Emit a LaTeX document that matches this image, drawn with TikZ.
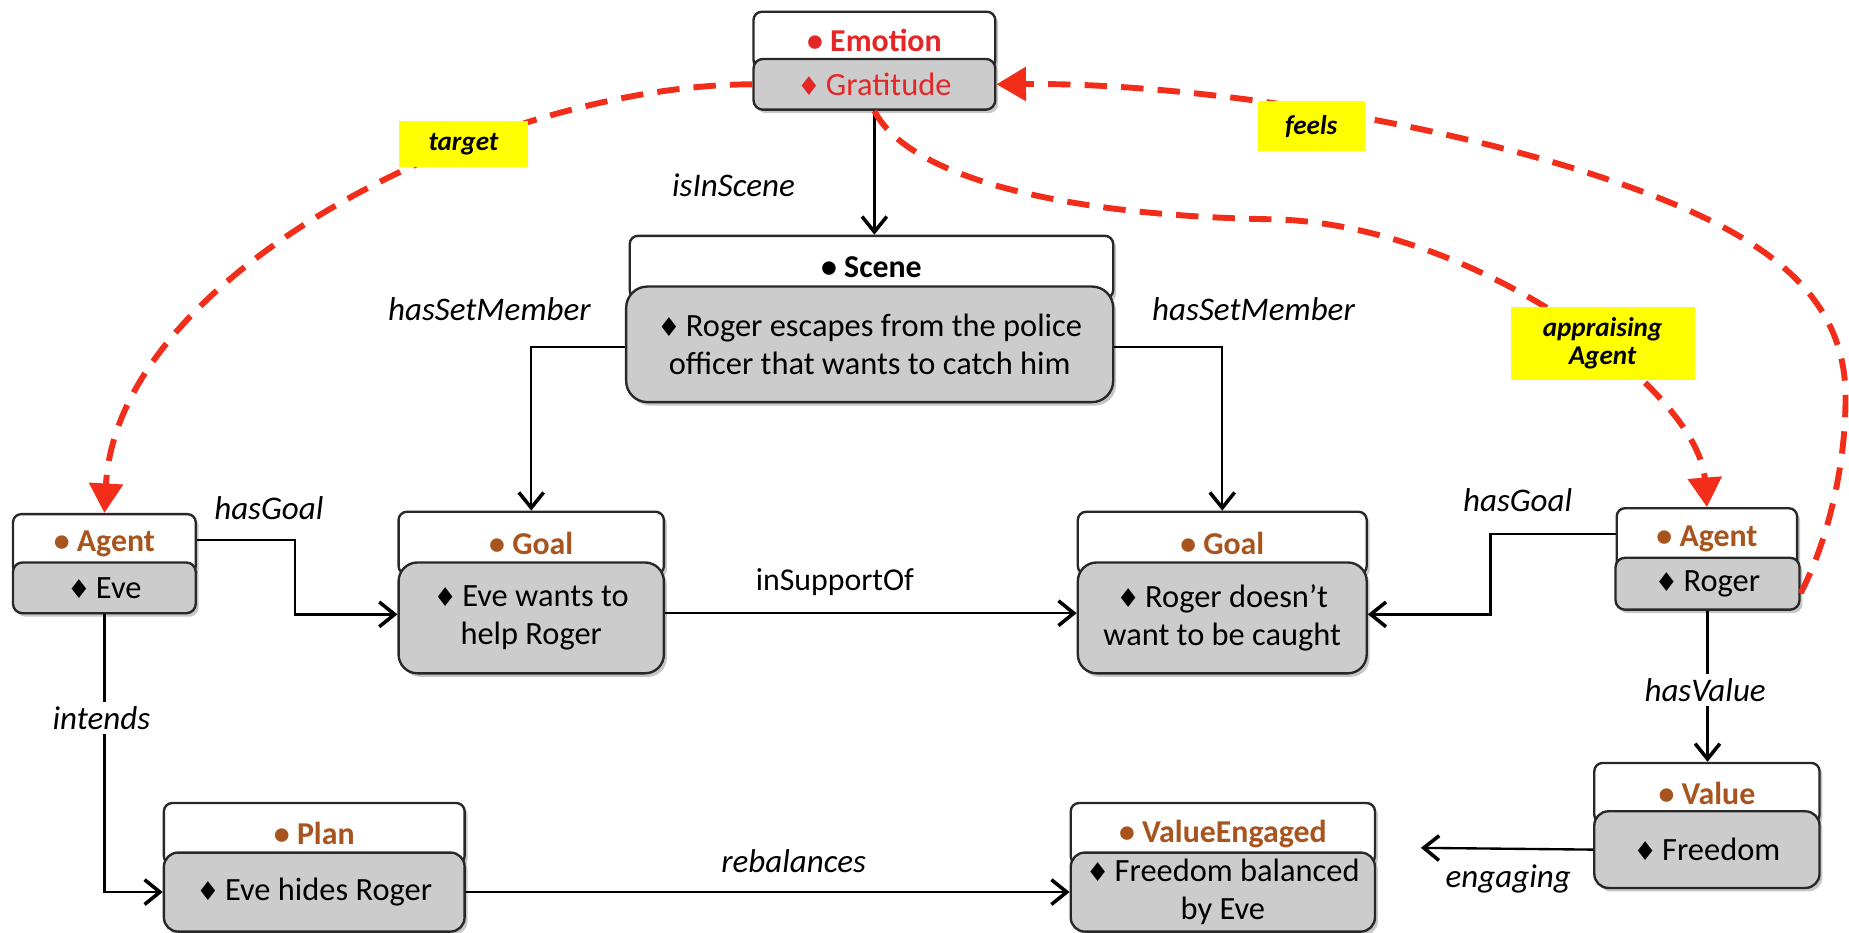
\documentclass[tikz,border=0pt]{standalone}
\usepackage{fontspec}
\setmainfont{Carlito}
\newfontfamily\symf{DejaVu Sans}
\usetikzlibrary{arrows.meta,shadows,calc}
\definecolor{hdrbrown}{RGB}{168,84,30}
\definecolor{emored}{RGB}{228,38,38}
\definecolor{boxgray}{RGB}{204,204,204}
\definecolor{dashred}{RGB}{242,45,25}
\definecolor{labyellow}{RGB}{255,255,0}
\definecolor{edgec}{RGB}{40,40,40}
\newcommand{\dmd}{{\symf\fontsize{22}{22}\selectfont ♦}\,}
\tikzset{
  box/.style={draw=edgec, line width=2pt, anchor=north west, inner sep=0pt, align=center,
    drop shadow={shadow xshift=2.5pt, shadow yshift=-3pt, opacity=0.22, fill=black}},
  hdr/.style={box, fill=white, rounded corners=7pt, font=\bfseries\fontsize{27}{31}\selectfont, text=hdrbrown},
  bod/.style={box, fill=boxgray, rounded corners=12pt, font=\fontsize{27.5}{32}\selectfont},
  conn/.style={draw=black, line width=2pt, -{Straight Barb[length=13pt,width=21pt,line width=3pt]}},
  rdash/.style={draw=dashred, line width=5pt, dash pattern=on 19pt off 12pt,
    -{Triangle[length=25pt,width=28pt]}},
  ylab/.style={fill=labyellow, inner sep=0pt, align=center, font=\bfseries\itshape\fontsize{23}{24}\selectfont},
  lab/.style={font=\itshape\fontsize{28}{30}\selectfont},
  ulab/.style={font=\fontsize{27}{30}\selectfont}
}
\begin{document}
\begin{tikzpicture}[x=1pt,y=-1pt]
\useasboundingbox (0,0) rectangle (1568,791);
\fill[white] (0,0) rectangle (1568,791);

% Emotion
\node[hdr, text=emored, minimum width=205pt, minimum height=48pt] (emoH) at (638,9) {• Emotion};
\node[bod, text=emored, rounded corners=8pt, minimum width=205pt, minimum height=43pt] (gratB) at (638,49) {{\color{emored}\dmd}Gratitude};

% Scene
\node[hdr, text=black, minimum width=410pt, minimum height=53pt] (sceneH) at (533,199) {• Scene};
\node[bod, rounded corners=18pt, minimum width=413pt, minimum height=98pt] (sceneB) at (530,242) {\dmd Roger escapes from the police\\officer that wants to catch him};

% Agent Eve
\node[hdr, minimum width=155pt, minimum height=51pt] (eveH) at (10,435) {• Agent};
\node[bod, rounded corners=8pt, minimum width=155pt, minimum height=43pt] (eveB) at (10,476) {\dmd Eve};

% Goal 1
\node[hdr, minimum width=225pt, minimum height=53pt] (g1H) at (337,433) {• Goal};
\node[bod, rounded corners=16pt, minimum width=225pt, minimum height=94pt] (g1B) at (337,476) {\dmd Eve wants to\\help Roger};

% Goal 2
\node[hdr, minimum width=245pt, minimum height=53pt] (g2H) at (913,433) {• Goal};
\node[bod, rounded corners=16pt, minimum width=245pt, minimum height=94pt] (g2B) at (913,476) {\dmd Roger doesn’t\\want to be caught};

% Agent Roger
\node[hdr, minimum width=153pt, minimum height=52pt] (rogH) at (1370,430) {• Agent};
\node[bod, rounded corners=8pt, minimum width=156pt, minimum height=44pt] (rogB) at (1369,472) {\dmd Roger};

% Value
\node[hdr, minimum width=191pt, minimum height=51pt] (valH) at (1351,646) {• Value};
\node[bod, rounded corners=12pt, minimum width=191pt, minimum height=65pt] (valB) at (1351,687) {\dmd Freedom};

% Plan
\node[hdr, minimum width=255pt, minimum height=52pt] (planH) at (138,680) {• Plan};
\node[bod, rounded corners=12pt, minimum width=255pt, minimum height=67pt] (planB) at (138,722) {\dmd Eve hides Roger};

% ValueEngaged
\node[hdr, minimum width=258pt, minimum height=52pt] (veH) at (907,680) {• ValueEngaged};
\node[bod, rounded corners=12pt, minimum width=258pt, minimum height=67pt] (veB) at (907,722) {\dmd Freedom balanced\\by Eve};

% black connectors
\draw[conn] (gratB.south) -- (gratB.south |- sceneH.north);
\draw[conn] ([yshift=-2pt]sceneB.west) -| (g1H.north);
\draw[conn] ([yshift=-2pt]sceneB.east) -| (g2H.north);
\draw[conn] (eveH.east |- 0,458) -- (250,458) |- ([yshift=3pt]g1B.west);
\draw[conn] (g1B.east |- 0,520) -- (g2B.west |- 0,520);
\draw[conn] (rogH.west |- 0,453) -- (1264,453) |- ([yshift=3pt]g2B.east);
\draw[conn] (eveB.south) |- (planB.west);
\draw[conn] (planB.east) -- (veB.west);
\draw[conn] (rogB.south) -- (rogB.south |- valH.north);
\coordinate (engEnd) at (1205,719);
\draw[conn] (valB.west) -- (engEnd);

% labels
\node[lab] (lIsIn) at (622,157) {isInScene};
\node[lab] (lSet1) at (415,262) {hasSetMember};
\node[lab] (lSet2) at (1063,262) {hasSetMember};
\node[lab] (lGoal1) at (228,431) {hasGoal};
\node[ulab] (lSup) at (708,494) {inSupportOf};
\node[lab] (lGoal2) at (1287,424) {hasGoal};
\node[lab, fill=white, inner sep=4pt] (lInt) at (86,609) {intends};
\node[lab, fill=white, inner sep=4pt] (lVal) at (1446,585) {hasValue};
\node[lab] (lReb) at (673,730) {rebalances};
\node[lab] (lEng) at (1279,745) {engaging};

% red dashed relations
\draw[rdash] (gratB.west) .. controls (420,72) and (100,230) .. (eveH.north);
\draw[rdash] (gratB.south) .. controls (770,150) and (900,183) .. (1080,186)
   .. controls (1250,190) and (1440,330) .. (rogH.north);
\draw[rdash] ([yshift=-8pt]rogB.east) .. controls (1552,455) and (1565,390) .. (1565,340)
   .. controls (1567,240) and (1480,190) .. (1351,148)
   .. controls (1200,99) and (1000,70) .. (gratB.east);

% yellow labels
\node[ylab, minimum width=110pt, minimum height=39pt] (yTarget) at (393,122) {target};
\node[ylab, minimum width=91pt, minimum height=42pt] (yFeels) at (1112,107) {feels};
\node[ylab, minimum width=156pt, minimum height=62pt] (yApp) at (1359,291) {appraising\\Agent};
\end{tikzpicture}
\end{document}
